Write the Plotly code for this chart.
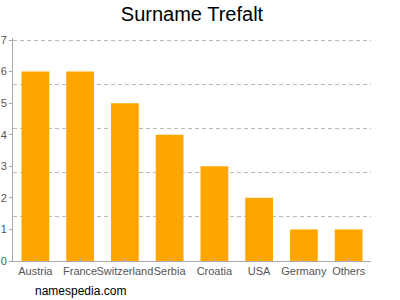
import plotly.graph_objects as go

countries = ["Austria", "France", "Switzerland", "Serbia", "Croatia", "USA", "Germany", "Others"]
counts = [6, 6, 5, 4, 3, 2, 1, 1]
y_ticks = [0, 1, 2, 3, 4, 5, 6, 7]
grid_vals = [1.4, 2.8, 4.2, 5.6, 7.0]

L, R, T, B = 13, 29, 38, 39
W, H = 400, 300
y_top = 7.064

fig = go.Figure()
fig.add_trace(go.Bar(x=countries, y=counts, marker_color="#FFA500", width=0.62,
                     marker_line_width=0))
# invisible trace on secondary axis for the gridlines
fig.add_trace(go.Scatter(x=countries, y=counts, yaxis="y2", mode="markers",
                         marker_opacity=0, showlegend=False, hoverinfo="skip"))

fig.update_layout(
    width=W, height=H,
    margin=dict(l=L, r=R, t=T, b=B),
    paper_bgcolor="white", plot_bgcolor="white",
    showlegend=False,
    title=dict(text="Surname Trefalt", xref="paper", x=0.5, xanchor="center",
               y=1 - 14 / H, yanchor="middle",
               font=dict(family="Liberation Sans, Arial", size=20, color="#000")),
    font=dict(family="Liberation Sans, Arial", size=11, color="#555"),
    xaxis=dict(showline=True, linecolor="#aaa", linewidth=1, ticks="inside", ticklen=3,
               tickcolor="#aaa", showgrid=False,
               tickangle=0, automargin=False,
               tickfont=dict(size=11, color="#555")),
    yaxis=dict(range=[0, y_top], tickvals=y_ticks, showgrid=False, showline=True,
               linecolor="#aaa", linewidth=1, ticks="outside", ticklen=3, tickcolor="#aaa",
               automargin=False, ticklabelstandoff=0,
               tickfont=dict(size=11, color="#555"), zeroline=False),
    yaxis2=dict(range=[0, y_top], overlaying="y", tickmode="array", tickvals=grid_vals,
                showticklabels=False,
                showgrid=True, gridcolor="#bbb", griddash="4px,3px", gridwidth=1,
                automargin=False, zeroline=False, showline=False),
    bargap=0.38,
    annotations=[dict(text="namespedia.com", showarrow=False,
                      xref="paper", x=(33 - L) / (W - L - R), xanchor="left",
                      yref="paper", y=-(291 - (H - B)) / (H - T - B), yanchor="middle",
                      font=dict(family="Liberation Sans, Arial", size=12, color="#000"))],
)
fig.write_html("out.html")
